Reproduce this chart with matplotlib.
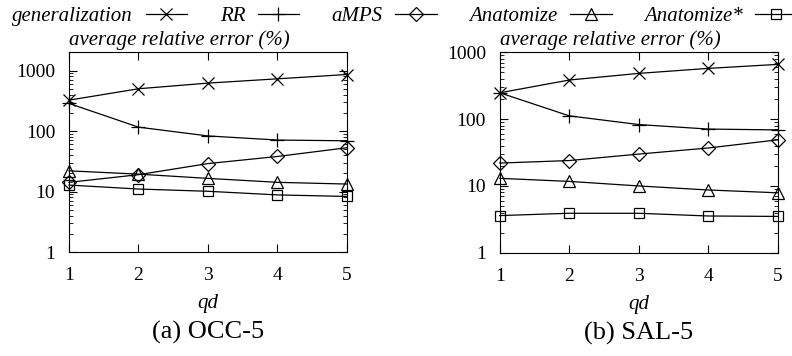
import matplotlib
matplotlib.use("Agg")
import matplotlib.pyplot as plt

plt.rcParams['font.family'] = ['Liberation Serif', 'DejaVu Serif']

qd = [1, 2, 3, 4, 5]
names = ['generalization', 'RR', 'aMPS', 'Anatomize', 'Anatomize*']
markers = ['x', '+', 'D', '^', 's']
msizes = [8, 10, 7, 9, 7.5]

# (a) OCC-5
occ_gen = [324, 500, 620, 730, 860]
occ_rr = [286, 116, 83, 71, 69]
occ_amps = [14.2, 19, 29, 38, 53]
occ_anat = [22, 19.4, 16.5, 14.2, 13.3]
occ_anat2 = [12.8, 11, 10.1, 8.8, 8.3]

# (b) SAL-5
sal_gen = [248, 385, 484, 575, 660]
sal_rr = [248, 112, 83, 71, 69]
sal_amps = [22, 24, 30, 37, 49]
sal_anat = [13, 11.7, 10, 8.7, 7.9]
sal_anat2 = [3.6, 3.9, 3.9, 3.55, 3.5]

occ = [occ_gen, occ_rr, occ_amps, occ_anat, occ_anat2]
sal = [sal_gen, sal_rr, sal_amps, sal_anat, sal_anat2]

fig = plt.figure(figsize=(7.92, 3.56), dpi=100)
ax1 = fig.add_axes([0.0871, 0.292, 0.351, 0.561])
ax2 = fig.add_axes([0.631, 0.290, 0.351, 0.563])

for ax, data, top, cap in [(ax1, occ, 2000, '(a) OCC-5'), (ax2, sal, 1000, '(b) SAL-5')]:
    for vals, name, m, ms in zip(data, names, markers, msizes):
        ax.plot(qd, vals, color='k', linewidth=0.9, marker=m, markersize=ms,
                markerfacecolor='none', markeredgecolor='k', markeredgewidth=0.9,
                label=name, clip_on=False)
    ax.set_yscale('log')
    ax.set_ylim(1, top)
    ax.set_xlim(1, 5)
    ax.set_xticks(qd)
    ax.set_yticks([1, 10, 100, 1000])
    ax.set_yticklabels(['1', '10', '100', '1000'])
    ax.tick_params(direction='in', which='both', top=True, right=True, labelsize=14)
    ax.tick_params(which='major', length=6)
    ax.tick_params(which='minor', length=3)
    ax.tick_params(axis='x', pad=11)
    ax.tick_params(axis='y', pad=10)
    ax.set_xlabel('qd', style='italic', fontsize=15, labelpad=7)
    ax.text(0.0, 1.01, 'average relative error (%)', transform=ax.transAxes,
            style='italic', fontsize=15, ha='left', va='bottom')
    ax.text(0.5, -0.405, cap, transform=ax.transAxes, fontsize=19, ha='center', va='center')

handles, labels = ax1.get_legend_handles_labels()
leg = fig.legend(handles, labels, loc='upper left', bbox_to_anchor=(-0.008, 1.035), ncol=5,
                 frameon=False, markerfirst=False, handlelength=2.0,
                 columnspacing=1.55, handletextpad=0.6,
                 prop={'style': 'italic', 'size': 15})

fig.savefig('out.png', dpi=100)
